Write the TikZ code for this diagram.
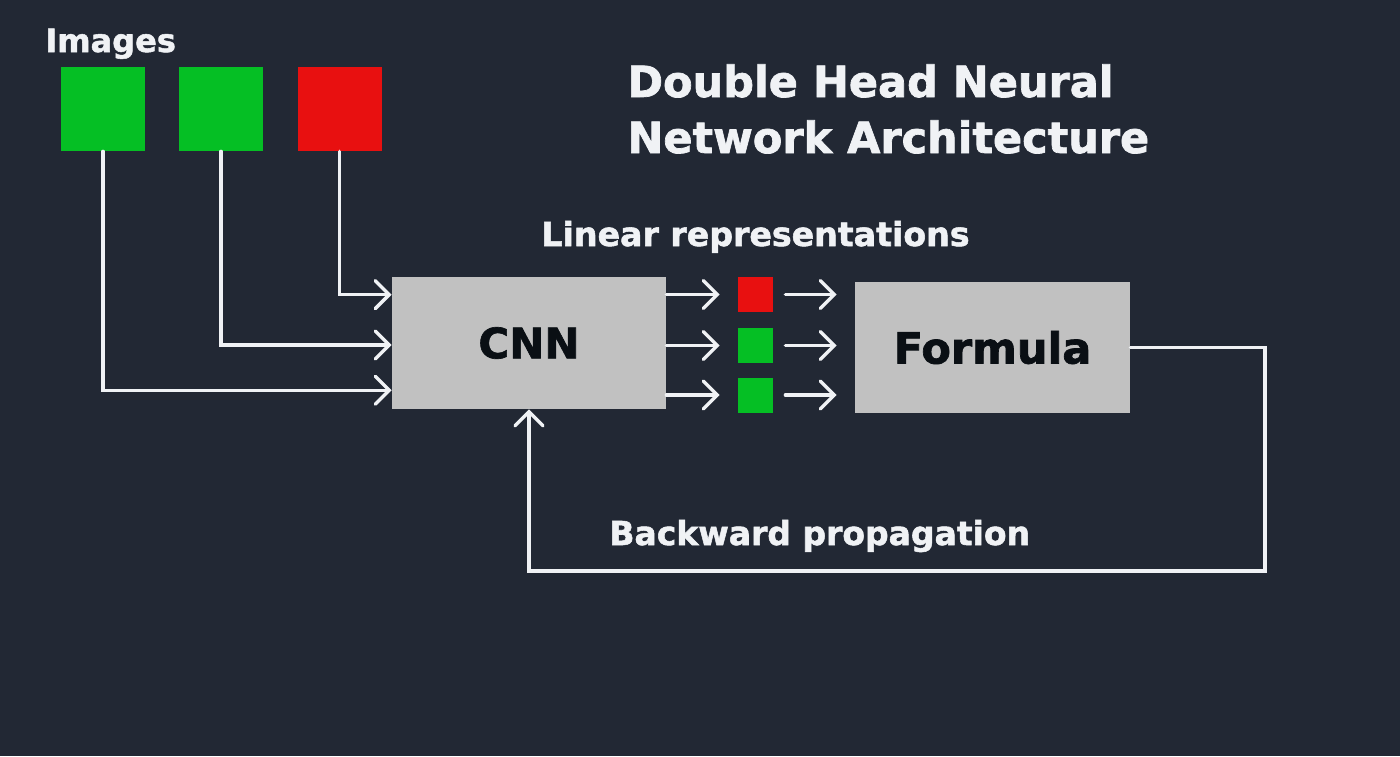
\documentclass[tikz,border=0pt]{standalone}
\usepackage{fontspec}
\setmainfont[BoldFeatures={FakeBold=1.6}]{DejaVu Sans}
\usepackage{tikz}
\usetikzlibrary{arrows.meta,positioning,calc}
\definecolor{bgdark}{HTML}{222834}
\definecolor{imggreen}{HTML}{05BF24}
\definecolor{imgred}{HTML}{E81010}
\definecolor{boxgray}{HTML}{C1C1C1}
\definecolor{inkwhite}{HTML}{F0F2F5}
\definecolor{inkdark}{HTML}{0A0F14}
\tikzset{tile/.style={
         fill=#1,draw=none,minimum size=42pt,inner sep=0pt}}
\tikzset{rep/.style={
         fill=#1,draw=none,minimum size=17.5pt,inner sep=0pt}}
\tikzset{block/.style={
         fill=boxgray,draw=none,minimum width=137pt,minimum height=66pt,inner sep=0pt,
         text=inkdark,font=\bfseries\fontsize{21}{24}\selectfont}}
\tikzset{label/.style={
         text=inkwhite,inner sep=0pt,font=\bfseries\fontsize{#1}{#1}\selectfont}}
\tikzset{link/.style={
         draw=inkwhite,line width=1.7pt,line cap=round,
         -{Straight Barb[length=7pt,width=14pt,line cap=round]}}}

\begin{document}
\begin{tikzpicture}[x=0.5pt,y=-0.5pt]

% Hintergrund
\fill [bgdark] (0,0) rectangle (1400,756);
\useasboundingbox (0,0) rectangle (1400,756);

% Titel
\node at (627,97) [label=21.5,anchor=base west] {Double Head Neural};
\node at (627,153) [label=21.5,anchor=base west] {Network Architecture};

% Bilder
\node at (45,52) [label=16,anchor=base west] {Images};
\node (img1) at (103,109) [tile=imggreen] {};
\node (img2) at (221,109) [tile=imggreen] {};
\node (img3) at (339.5,109) [tile=imgred] {};

% Netz und Formel
\node (cnn) at (529,343) [block] {CNN};
\node (formula) at (992.5,347.5) [block,minimum width=137.5pt,minimum height=65.5pt,
      font=\bfseries\fontsize{21.5}{24}\selectfont] {Formula};

% lineare Darstellungen
\node at (541,246) [label=16.6,anchor=base west] {Linear representations};
\node (rep1) at (755.5,294.5) [rep=imgred] {};
\node (rep2) at (755.5,345.5) [rep=imggreen] {};
\node (rep3) at (755.5,395) [rep=imggreen] {};

% Eingaenge
\draw [link] (img3.south) |- ($(cnn.north west)!0.136!(cnn.south west)$);
\draw [link] (img2.south) |- ($(cnn.north west)!0.515!(cnn.south west)$);
\draw [link] (img1.south) |- ($(cnn.north west)!0.856!(cnn.south west)$);

% Ausgaenge
\foreach \r in {rep1,rep2,rep3} {
  \draw [link,shorten >=9pt] (cnn.east |- \r) -- (\r.west);
  \draw [link,shorten <=6pt,shorten >=9pt] (\r.east) -- (formula.west |- \r);
}

% Rueckweg
\coordinate (turn) at (1265,571);
\draw [link] (formula.east) -| (turn) -| (cnn.south);
\node at (609,545) [label=16.5,anchor=base west] {Backward propagation};

\end{tikzpicture}
\end{document}
